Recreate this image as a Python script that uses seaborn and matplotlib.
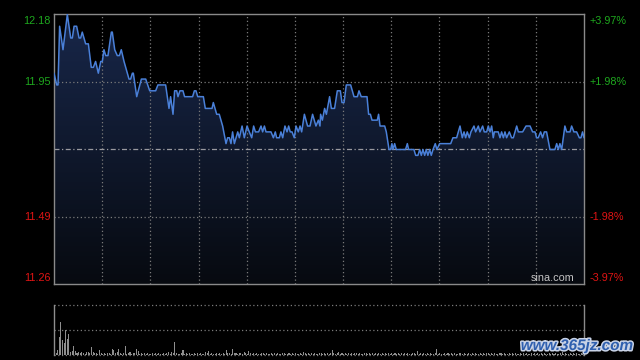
import numpy as np
import pandas as pd
import matplotlib
matplotlib.use("Agg")
import matplotlib.pyplot as plt
import matplotlib.patheffects as pe
from matplotlib.colors import LinearSegmentedColormap
import seaborn as sns

# ---------------- data ----------------
minute = [0, 1.7, 2.5, 3.5, 5.6, 8.3, 10.4, 11.4, 12.5, 14.1, 15.6, 16.6, 17.6, 19.7, 21.4,
          23.2, 24.5, 25.9, 27.6, 29.1, 30.1, 31.1, 32.2, 33.6, 35.7, 36.3, 37.8, 39.4, 40.7,
          41.9, 43.6, 46.7, 47.7, 48.8, 49.4, 51.5, 54.4, 57.1, 59.6, 63.3, 64.7, 69.5, 71.6,
          72.6, 74.1, 75.1, 76.4, 77.2, 78.4, 80.3, 81.3,
          82.2, 86.3, 87.4, 88.4, 89.5, 93.0, 94.2, 98.4, 99.2, 101.3, 102.9, 105.0, 107.1,
          108.1, 109.2, 110.2, 111.2, 112.3, 114.4, 115.4, 117.1, 118.5, 120.2, 121.6, 123.1,
          124.3, 125.4, 127.4, 128.9, 129.9, 131.0, 132.0, 135.1, 136.6, 137.8, 138.6, 140.3,
          141.3, 142.4, 143.8, 145.1, 146.1, 147.1, 148.2, 149.6, 150.7, 152.1, 153.2, 154.2,
          155.9, 157.9, 159.4, 161.0, 163.1, 164.6, 165.6,
          166.0, 167.1, 168.5, 169.6, 171.6, 172.7, 174.7, 176.4, 178.3, 179.3, 180.6, 182.0,
          184.7, 186.8, 188.9, 189.9, 191.3, 193.4, 194.9, 195.9, 197.0, 198.0, 201.3, 202.1,
          203.0, 205.9, 206.9, 208.6, 209.6, 210.4, 211.1, 212.1, 213.1, 218.9, 220.0, 220.8,
          224.1, 225.2, 226.6, 227.7, 228.7, 229.7, 230.8, 231.8, 232.8, 233.9, 234.9, 236.0,
          237.4, 238.4, 240.1, 247.0, 248.4,
          250.7, 252.8, 254.2, 255.3, 256.3, 257.3, 258.6, 259.6, 261.5, 262.5, 264.2, 265.2,
          266.9, 267.9, 269.4, 270.4, 271.5, 272.5, 273.5, 274.2, 276.6, 277.7, 278.7, 279.8,
          280.8, 281.8, 283.5, 284.9, 286.0, 288.1, 289.1, 291.8, 293.9, 296.4, 298.0, 299.5,
          300.5, 301.5, 303.0, 304.2, 305.3, 306.7, 308.8, 311.9, 313.0, 314.0, 315.0, 316.1,
          318.1, 319.2, 321.3, 322.3, 323.7, 325.4, 327.1, 328.1, 329.1, 330.0]
price = [11.98, 11.94, 11.94, 12.14, 12.06, 12.18, 12.10, 12.10, 12.14, 12.14, 12.10, 12.10,
         12.12, 12.08, 12.08, 12.00, 12.00, 12.02, 11.98, 12.02, 12.02, 12.06, 12.04, 12.04,
         12.12, 12.12, 12.06, 12.04, 12.04, 12.06, 12.02, 11.96, 11.96, 11.98, 11.98, 11.90,
         11.96, 11.96, 11.92, 11.92, 11.94, 11.94, 11.86, 11.90, 11.84, 11.92, 11.92, 11.90,
         11.92, 11.92, 11.90,
         11.90, 11.90, 11.92, 11.92, 11.90, 11.90, 11.86, 11.86, 11.88, 11.84, 11.84, 11.80,
         11.74, 11.76, 11.76, 11.74, 11.78, 11.74, 11.78, 11.76, 11.80, 11.76, 11.80, 11.78,
         11.76, 11.80, 11.78, 11.78, 11.80, 11.78, 11.80, 11.78, 11.78, 11.76, 11.78, 11.76,
         11.76, 11.78, 11.76, 11.80, 11.78, 11.80, 11.78, 11.78, 11.76, 11.80, 11.78, 11.80,
         11.78, 11.84, 11.80, 11.80, 11.84, 11.80, 11.82, 11.80,
         11.84, 11.82, 11.86, 11.84, 11.90, 11.86, 11.86, 11.92, 11.92, 11.88, 11.88, 11.94,
         11.94, 11.90, 11.90, 11.92, 11.90, 11.90, 11.90, 11.84, 11.84, 11.82, 11.82, 11.84,
         11.80, 11.80, 11.78, 11.72, 11.72, 11.74, 11.72, 11.74, 11.72, 11.72, 11.74, 11.72,
         11.72, 11.70, 11.70, 11.72, 11.70, 11.72, 11.70, 11.72, 11.70, 11.72, 11.70, 11.72,
         11.74, 11.72, 11.74, 11.74, 11.76,
         11.76, 11.80, 11.76, 11.78, 11.76, 11.78, 11.76, 11.78, 11.80, 11.78, 11.80, 11.78,
         11.80, 11.78, 11.78, 11.80, 11.78, 11.80, 11.76, 11.78, 11.78, 11.76, 11.78, 11.76,
         11.78, 11.76, 11.78, 11.76, 11.76, 11.80, 11.78, 11.78, 11.80, 11.80, 11.78, 11.78,
         11.76, 11.76, 11.78, 11.76, 11.78, 11.78, 11.72, 11.72, 11.74, 11.72, 11.74, 11.72,
         11.80, 11.78, 11.78, 11.80, 11.78, 11.78, 11.76, 11.76, 11.78, 11.76]

# volume per minute, in percent of the panel height
volume = [100, 4, 10, 36, 66, 31, 25, 51, 33, 42, 7, 9, 18, 9, 5, 7, 4, 7, 5, 3, 7, 6, 4, 16, 6, 4, 5, 3, 10, 4,
          3, 4, 3, 5, 4, 3, 12, 10, 5, 6, 12, 4, 3, 5, 18, 3, 4, 7, 3, 4, 5, 12, 9, 3, 4, 3, 5, 3, 4, 3,
          3, 4, 3, 5, 3, 4, 3, 3, 4, 3, 5, 7, 3, 7, 4, 26, 4, 3, 3, 4, 10, 3, 4, 3, 5, 3, 3, 4, 3, 4,
          3, 4, 3, 3, 7, 5, 9, 3, 4, 3, 3, 5, 3, 4, 3, 4, 3, 10, 4, 5, 3, 12, 4, 5, 3, 4, 5, 3, 7, 4,
          3, 9, 4, 3, 5, 3, 4, 3, 3, 4, 5, 3, 4, 3, 3, 4, 3, 5, 3, 4, 3, 3, 4, 5, 3, 3, 4, 3, 5, 3,
          4, 3, 3, 4, 3, 7, 5, 3, 4, 3, 5, 3, 4, 3, 3, 4, 5, 3, 4, 3, 4, 3, 5, 11, 4, 3, 4, 7, 3, 4,
          3, 4, 3, 5, 3, 4, 3, 4, 5, 3, 4, 3, 3, 4, 5, 3, 4, 3, 4, 3, 5, 3, 4, 3, 4, 3, 5, 3, 4, 3,
          4, 3, 5, 3, 4, 3, 4, 3, 5, 3, 4, 3, 3, 4, 5, 3, 8, 3, 4, 3, 4, 3, 5, 3, 4, 3, 3, 4, 12, 3,
          4, 3, 3, 4, 3, 5, 3, 4, 3, 4, 3, 3, 4, 5, 3, 4, 3, 3, 4, 3, 5, 3, 4, 3, 3, 4, 3, 5, 3, 4,
          4, 3, 5, 3, 4, 3, 3, 4, 5, 3, 4, 3, 3, 4, 3, 5, 3, 4, 3, 3, 4, 3, 5, 3, 4, 3, 3, 4, 3, 4,
          3, 4, 3, 5, 3, 4, 3, 3, 4, 3, 5, 3, 4, 3, 3, 4, 6, 3, 4, 3, 3, 4, 3, 5, 3, 4, 3, 3, 4, 3,
          4]

price_labels = ["12.18", "11.95", "11.49", "11.26"]
price_levels = [12.18, 11.95, 11.49, 11.26]
pct_labels = ["+3.97%", "+1.98%", "-1.98%", "-3.97%"]
prev_close = 11.72

# ---------------- style ----------------
sns.set_theme(style="dark", rc={"figure.facecolor": "black", "axes.facecolor": "black"})
plt.rcParams["font.family"] = ["Liberation Sans", "DejaVu Sans"]

GRID = "#7a7a7a"
SPINE = "#8a8a8a"
LINE = "#4a80d8"
GREEN = "#1ea81e"
RED = "#e01414"

fig = plt.figure(figsize=(6.4, 3.6), dpi=100, facecolor="black")
ax = fig.add_axes([54 / 640, 1 - 284 / 360, 530 / 640, 270 / 360])
ax.set_facecolor("black")

ylo, yhi = 11.2617, 12.1817
ax.set_xlim(0, 330)
ax.set_ylim(ylo, yhi)

df = pd.DataFrame({"minute": minute, "price": price})

# gradient fill under the line
poly = ax.fill_between(df["minute"], df["price"], ylo, color="none", lw=0)
cmap = LinearSegmentedColormap.from_list("fill", ["#070a10", "#18274a"])
grad = np.linspace(0, 1, 256).reshape(-1, 1)
im = ax.imshow(grad, extent=[0, 330, ylo, yhi], origin="lower", aspect="auto",
               cmap=cmap, zorder=1)
path = poly.get_paths()[0]
im.set_clip_path(path, transform=ax.transData)

# grid
for m in range(30, 330, 30):
    ax.axvline(m, color=GRID, ls=(0, (1, 2)), lw=0.9, zorder=2)
for lv in (price_levels[1], price_levels[2]):
    ax.axhline(lv, color=GRID, ls=(0, (1, 2)), lw=0.9, zorder=2)
ax.axhline(prev_close, color="#9a9aa0", ls=(0, (4, 2, 1, 2)), lw=0.9, zorder=2)

sns.lineplot(data=df, x="minute", y="price", ax=ax, color=LINE, lw=1.1, zorder=3,
             sort=False, estimator=None)

ax.set_xticks([])
ax.set_yticks([])
ax.set_xlabel("")
ax.set_ylabel("")
ax.grid(False)
for s in ax.spines.values():
    s.set_visible(True)
    s.set_color(SPINE)
    s.set_linewidth(1.0)

# labels
trans_l = matplotlib.transforms.blended_transform_factory(ax.transAxes, ax.transData)
vas = ["top", "center", "center", "bottom"]
offs = [-0.004, 0, 0, 0.005]
for i, (lab, lv, pl) in enumerate(zip(price_labels, price_levels, pct_labels)):
    col = GREEN if i < 2 else RED
    ax.text(-0.006, lv + offs[i], lab, transform=trans_l, ha="right", va=vas[i],
            color=col, fontsize=7.8)
    ax.text(1.011, lv + offs[i], pl, transform=trans_l, ha="left", va=vas[i],
            color=col, fontsize=7.8)

ax.text(0.982, 0.005, "sina.com", transform=ax.transAxes, ha="right", va="bottom",
        color="#c4c4c4", fontsize=7.8, zorder=5)

# ---------------- volume panel ----------------
ax2 = fig.add_axes([54 / 640, 1 - 355 / 360, 530 / 640, 50 / 360])
ax2.set_facecolor("black")
ax2.set_xlim(0, 330)
ax2.set_ylim(0, 100)
vdf = pd.DataFrame({"minute": np.arange(len(volume)), "volume": volume})
ax2.bar(vdf["minute"], vdf["volume"], width=0.65, align="edge", color="#8e8e8e", lw=0, zorder=3)
for lv in (0, 50, 100):
    ax2.axhline(lv, color=GRID, ls=(0, (1, 2)), lw=0.9, zorder=2, clip_on=False)
ax2.set_xticks([])
ax2.set_yticks([])
ax2.grid(False)
ax2.spines["top"].set_visible(False)
ax2.spines["bottom"].set_visible(False)
for k in ("left", "right"):
    ax2.spines[k].set_visible(True)
    ax2.spines[k].set_color(SPINE)
    ax2.spines[k].set_linewidth(1.0)

# watermark
fig.text(633 / 640, 1 - 346 / 360, "www.365jz.com", ha="right", va="center",
         color="#2f5fae", fontsize=11, fontweight="bold", style="italic",
         path_effects=[pe.withStroke(linewidth=2.2, foreground="#c9d3e6")], zorder=10)

fig.savefig("out.png", dpi=100, facecolor="black")
